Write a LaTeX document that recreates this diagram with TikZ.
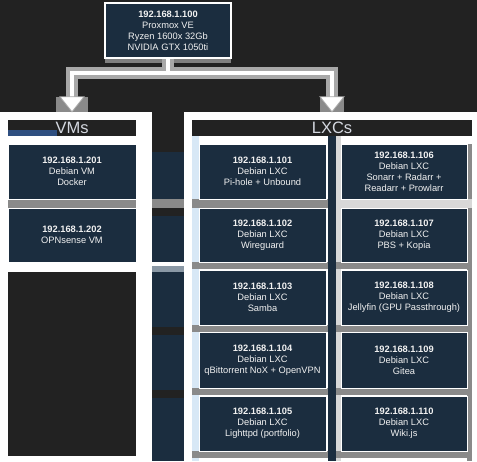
\documentclass[tikz,border=0pt]{standalone}
\usepackage{fontspec}
\setmainfont{Liberation Sans}
\definecolor{bgdark}{HTML}{222222}
\definecolor{navy}{HTML}{1B2D3F}
\definecolor{sep}{HTML}{8A8A8A}
\definecolor{sepl}{HTML}{D8D8D8}
\definecolor{lblue}{HTML}{D8E8F6}
\definecolor{hdrblue}{HTML}{2F4F80}
\definecolor{hdrtxt}{HTML}{D4D8E0}
\definecolor{conngray}{HTML}{A8A8A8}
\definecolor{slate}{HTML}{8A98A5}
\definecolor{boxtxt}{HTML}{F2F2F2}
\tikzset{
  box/.style={rectangle, draw=white, line width=1pt, fill=navy, text=boxtxt,
    font=\fontsize{9.3}{11}\selectfont, align=center, inner sep=0pt,
    minimum width=127pt, minimum height=55pt},
  topbox/.style={box, line width=1.6pt, minimum width=126pt},
  hdr/.style={rectangle, fill=bgdark, text=hdrtxt, inner sep=0pt,
    font=\fontsize{16.5}{16}\selectfont, minimum height=16pt},
  connout/.style={draw=conngray, line width=12pt},
  connin/.style={draw=white, line width=4pt},
  tipstyle/.style={fill=white, draw=conngray, line width=0.8pt, line join=miter}
}
\begin{document}
\begin{tikzpicture}[x=1pt,y=-1pt]
\useasboundingbox (0,0) rectangle (477,461);
% backgrounds
\fill[bgdark] (0,0) rectangle (477,461);
\fill[white] (0,112) rectangle (152,461);
\fill[white] (184,112) rectangle (477,461);
% middle strip between panels
\fill[navy] (152,152) rectangle (184,461);
\fill[sep] (152,199) rectangle (184,208);
\fill[bgdark] (152,208) rectangle (184,216);
\fill[white] (152,262) rectangle (184,266);
\fill[slate] (152,266) rectangle (184,272);
\fill[bgdark] (152,327) rectangle (184,335);
\fill[bgdark] (152,390) rectangle (184,398);
% left panel details
\fill[sep] (8,199) rectangle (136,208);
\fill[bgdark] (8,272) rectangle (136,456);
% right panel details
\fill[lblue] (192,136) rectangle (199,461);
\fill[navy] (328,136) rectangle (336,461);
\fill[sepl] (336,136) rectangle (341,461);
\fill[sep] (467,144) rectangle (472,461);
\fill[sep] (192,199) rectangle (328,208);
\fill[sepl] (336,199) rectangle (472,208);
\foreach \y in {262,325,388,451} {
  \fill[sep] (192,\y) rectangle (328,\y+7);
  \fill[sep] (336,\y) rectangle (472,\y+7);
}
% strip under top box
\fill[conngray!70!bgdark] (105,58) rectangle (231,63);
% headers
\node[hdr, minimum width=128pt] (vmh) at (72,128) {};
\fill[hdrblue] (8,130) rectangle (57,136);
\node[text=hdrtxt, font=\fontsize{16.5}{16}\selectfont, inner sep=0pt] at (vmh) {VMs};
\node[hdr, minimum width=280pt] (lxh) at (332,128) {LXCs};
% top box
\node[topbox] (top) at (168,30.5) {\textbf{192.168.1.100}\\Proxmox VE\\Ryzen 1600x 32Gb\\NVIDIA GTX 1050ti};
% VM boxes
\node[box, minimum width=128pt] (vm1) at (72,171.5) {\textbf{192.168.1.201}\\Debian VM\\Docker};
\node[box, minimum width=128pt, minimum height=54pt] (vm2) at (72,235) {\textbf{192.168.1.202}\\OPNsense VM};
% LXC boxes
\node[box] (l101) at (262.5,171.5) {\textbf{192.168.1.101}\\Debian LXC\\Pi-hole + Unbound};
\node[box, minimum height=54pt] (l102) at (262.5,235) {\textbf{192.168.1.102}\\Debian LXC\\Wireguard};
\node[box] (l103) at (262.5,297.5) {\textbf{192.168.1.103}\\Debian LXC\\Samba};
\node[box, minimum height=56pt] (l104) at (262.5,360) {\textbf{192.168.1.104}\\Debian LXC\\qBittorrent NoX + OpenVPN};
\node[box] (l105) at (262.5,423.5) {\textbf{192.168.1.105}\\Debian LXC\\Lighttpd (portfolio)};
\node[box, minimum width=126pt] (l106) at (404,171.5) {\textbf{192.168.1.106}\\Debian LXC\\Sonarr + Radarr +\\Readarr + Prowlarr};
\node[box, minimum width=126pt, minimum height=54pt] (l107) at (404,235) {\textbf{192.168.1.107}\\Debian LXC\\PBS + Kopia};
\node[box, minimum width=126pt] (l108) at (404,297.5) {\textbf{192.168.1.108}\\Debian LXC\\Jellyfin (GPU Passthrough)};
\node[box, minimum width=126pt, minimum height=56pt] (l109) at (404,360) {\textbf{192.168.1.109}\\Debian LXC\\Gitea};
\node[box, minimum width=126pt] (l110) at (404,423.5) {\textbf{192.168.1.110}\\Debian LXC\\Wiki.js};
% connector
\coordinate (split) at ([yshift=-14pt]top.south);
\coordinate (vma) at ([yshift=23pt]vmh.north);
\coordinate (lxa) at ([yshift=23pt]lxh.north);
\draw[connout] (top.south) -- (split);
\draw[connout] (vma) -- (vma |- split) -- (lxa |- split) -- (lxa);
\draw[connin] (top.south) -- (split);
\draw[connin] (vma) -- (vma |- split) -- (lxa |- split) -- (lxa);
\fill[sep] ([xshift=-16pt]vma) rectangle ([xshift=16pt,yshift=-15pt]vma);
\fill[sep] ([xshift=-12pt]lxa) rectangle ([xshift=12pt,yshift=-15pt]lxa);
\filldraw[tipstyle] ([xshift=-12pt]vma) -- ([xshift=12pt]vma) -- ([yshift=-15pt]vma) -- cycle;
\filldraw[tipstyle] ([xshift=-12pt]lxa) -- ([xshift=12pt]lxa) -- ([yshift=-15pt]lxa) -- cycle;
\end{tikzpicture}
\end{document}
